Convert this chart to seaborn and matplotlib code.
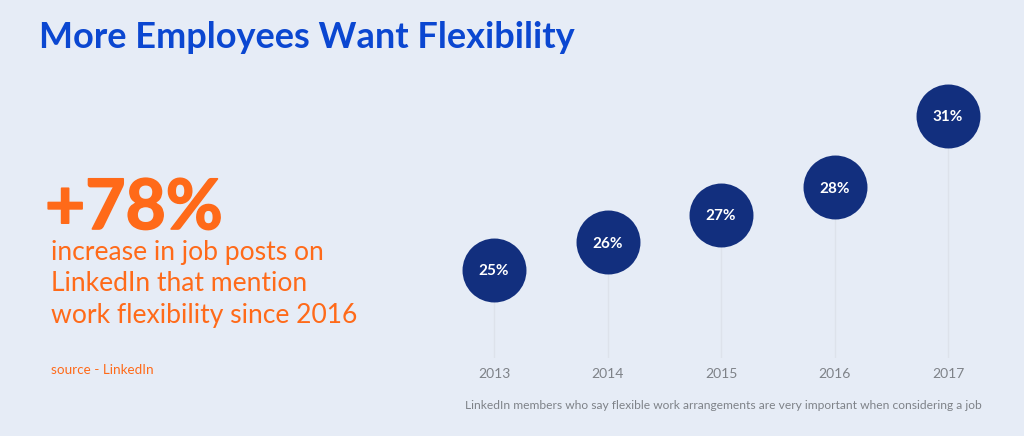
import matplotlib
matplotlib.use("Agg")
import matplotlib.pyplot as plt
import matplotlib.patheffects as pe
import seaborn as sns
import pandas as pd

years = [2013, 2014, 2015, 2016, 2017]
shares = [25, 26, 27, 28, 31]
# the last bubble sits a bit lower than 31 in the original graphic
heights = [25, 26, 27, 28, 30.6]
year_labels = ["2013", "2014", "2015", "2016", "2017"]
share_labels = ["25%", "26%", "27%", "28%", "31%"]

BG = "#E6ECF6"
BLUE = "#0B47D1"
ORANGE = "#FF6A19"
NAVY = "#122F7E"
STEM = "#DDE2EB"
GREY = "#7E8288"

W, H = 1024, 436
BASE = 21.80

sns.set_theme(style="white")
plt.rcParams["font.family"] = ["Lato", "DejaVu Sans"]

fig = plt.figure(figsize=(W / 100, H / 100), dpi=100, facecolor=BG)
ax = fig.add_axes([440 / W, 1 - 358 / H, 570 / W, 298 / H], facecolor="none")

df = pd.DataFrame({"year": years, "height": heights})

ax.set_xlim(2012.524, 2017.546)
ax.set_ylim(BASE, 32.63)

ax.vlines(years, BASE, heights, color=STEM, linewidth=1.0, zorder=1)
sns.scatterplot(data=df, x="year", y="height", s=2120, color=NAVY, linewidth=0,
                ax=ax, zorder=2, clip_on=False, legend=False)

for x, y, label in zip(years, heights, share_labels):
    ax.text(x, y, label, color="white", fontsize=11, fontweight="bold",
            ha="center", va="center_baseline", zorder=3)

ax.set_xticks(years)
ax.set_xticklabels(year_labels, fontsize=10, color=GREY)
ax.tick_params(axis="x", length=0, pad=7)
ax.set_yticks([])
ax.set_xlabel("")
ax.set_ylabel("")
sns.despine(ax=ax, left=True, bottom=True)

fig.text(39 / W, 1 - 48 / H, "More Employees Want Flexibility", color=BLUE,
         fontsize=26, fontweight="bold", ha="left", va="baseline")
big = fig.text(45 / W, 1 - 229 / H, "+78%", color=ORANGE, fontsize=50,
               fontweight="bold", ha="left", va="baseline")
big.set_path_effects([pe.withStroke(linewidth=1.2, foreground=ORANGE)])
for y, line in zip([260, 291, 323], ["increase in job posts on",
                                     "LinkedIn that mention",
                                     "work flexibility since 2016"]):
    fig.text(51 / W, 1 - y / H, line, color=ORANGE, fontsize=19.1,
             ha="left", va="baseline")
fig.text(51 / W, 1 - 374 / H, "source - LinkedIn", color=ORANGE, fontsize=9.7,
         ha="left", va="baseline")
fig.text(465 / W, 1 - 409 / H,
         "LinkedIn members who say flexible work arrangements are very important when considering a job",
         color=GREY, fontsize=8.65, ha="left", va="baseline")

fig.savefig("out.png", dpi=100, facecolor=BG)
plt.close(fig)
